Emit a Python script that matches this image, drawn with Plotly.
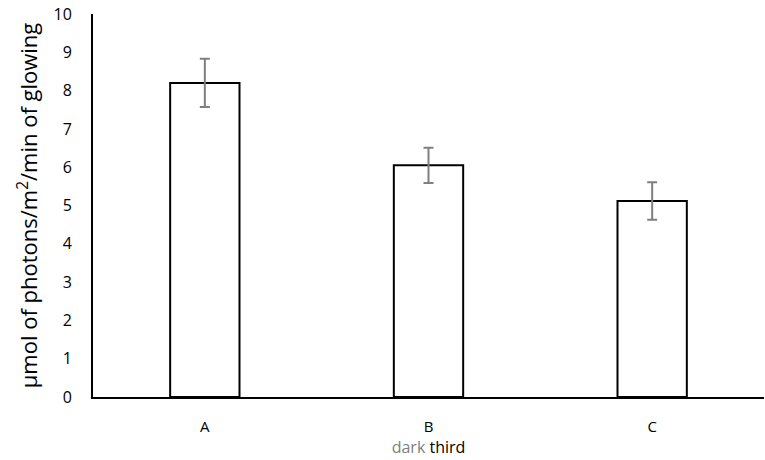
import plotly.graph_objects as go

categories = ["A", "B", "C"]
values = [8.2, 6.05, 5.12]
errors = [0.63, 0.46, 0.49]
y_ticks = [0, 1, 2, 3, 4, 5, 6, 7, 8, 9, 10]

fig = go.Figure()
fig.add_trace(go.Bar(
    x=categories, y=values,
    marker=dict(color="white", line=dict(color="black", width=2)),
    error_y=dict(type="data", array=errors, color="#7f7f7f", thickness=2, width=5),
    width=0.31,
))

fig.update_layout(
    width=765, height=460,
    margin=dict(l=93, r=1, t=14, b=63),
    plot_bgcolor="white", paper_bgcolor="white",
    showlegend=False,
    font=dict(family="Open Sans, sans-serif", color="black"),
    xaxis=dict(
        showline=True, linecolor="black", linewidth=2,
        showgrid=False, ticks="", tickfont=dict(size=15),
        ticklabelstandoff=15,
        title=dict(text="<span style='color:#808080'>dark</span> third",
                   font=dict(size=16), standoff=5),
    ),
    yaxis=dict(
        range=[0, 10], tickvals=y_ticks,
        showline=True, linecolor="black", linewidth=2,
        showgrid=False, zeroline=False, ticks="", tickfont=dict(size=16),
        ticklabelstandoff=16,
        title=dict(text="μmol of photons/m<sup>2</sup>/min of glowing",
                   font=dict(size=22), standoff=10),
    ),
)

fig.write_html("out.html")
